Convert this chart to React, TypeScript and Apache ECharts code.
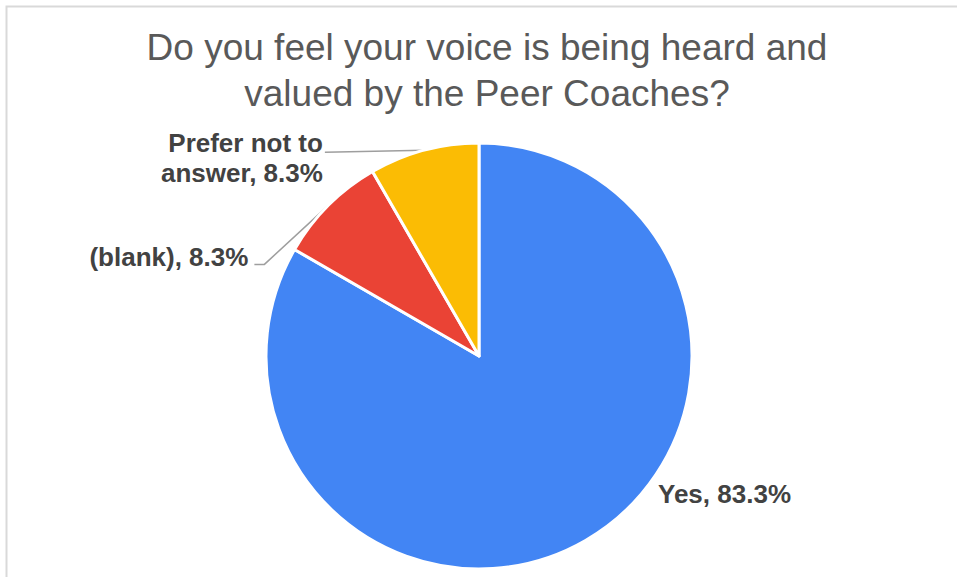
import React, { useEffect, useRef } from "react";
import * as echarts from "echarts";

const TITLE_LINES = ["Do you feel your voice is being heard and", "valued by the Peer Coaches?"];
const categories = ["Yes", "(blank)", "Prefer not to answer"];
const labelNames = ["Yes", "(blank)", "Prefer not to\nanswer"];
const values = [10, 1, 1];
const colors = ["#4285F4", "#EA4335", "#FBBC04"];

export default function App() {
  const ref = useRef<HTMLDivElement>(null);
  useEffect(() => {
    const chart = echarts.init(ref.current!, null, { renderer: "svg" });
    const total = values.reduce((s, v) => s + v, 0);
    chart.setOption({
      animation: false,
      backgroundColor: "#ffffff",
      graphic: [
        {
          type: "rect",
          silent: true,
          shape: { x: 6.5, y: 6.5, width: 1200, height: 1200 },
          style: { fill: "none", stroke: "#d9d9d9", lineWidth: 2 },
        },
        {
          type: "text",
          silent: true,
          x: 487,
          y: 24,
          style: {
            text: TITLE_LINES.join("\n"),
            align: "center",
            verticalAlign: "top",
            fontFamily: "Liberation Sans",
            fontWeight: "normal",
            fontSize: 37,
            lineHeight: 46,
            fill: "#595959",
          },
        },
      ],
      series: [
        {
          type: "pie",
          center: [479, 356],
          radius: [0, 213],
          startAngle: 90,
          clockwise: true,
          itemStyle: { borderColor: "#ffffff", borderWidth: 3 },
          label: {
            show: true,
            position: "outside",
            fontFamily: "Liberation Sans",
            fontWeight: "bold",
            fontSize: 26,
            lineHeight: 30,
            color: "#424242",
            formatter: (p: any) =>
              `${labelNames[p.dataIndex]}, ${((values[p.dataIndex] / total) * 100).toFixed(1)}%`,
          },
          labelLine: {
            show: true,
            length: 20,
            length2: 20,
            lineStyle: { color: "#9e9e9e", width: 1.5 },
          },
          labelLayout: (p: any) => {
            const i = p.dataIndex;
            const pts = p.labelLinePoints;
            if (i === 0) {
              return { x: 658, y: 494, align: "left", verticalAlign: "middle" };
            }
            const a = pts && pts[0] ? pts[0] : [0, 0];
            if (i === 1) {
              return {
                x: a[0] - 80,
                y: a[1] + 52,
                align: "right",
                verticalAlign: "middle",
                labelLinePoints: [a, [a[0] - 64, a[1] + 59], [a[0] - 74, a[1] + 59]],
              };
            }
            return {
              x: a[0] - 101,
              y: a[1] + 8,
              align: "right",
              verticalAlign: "middle",
              labelLinePoints: [a, [a[0] - 99, a[1] + 2], [a[0] - 99, a[1] + 2]],
            };
          },
          data: categories.map((c, i) => ({
            name: c,
            value: values[i],
            itemStyle: { color: colors[i] },
            labelLine: { show: i !== 0 },
          })),
        },
      ],
    });
    return () => chart.dispose();
  }, []);
  return (
    <div
      ref={ref}
      style={{ position: "fixed", left: 0, top: 0, width: 957, height: 577, background: "#fff" }}
    />
  );
}
